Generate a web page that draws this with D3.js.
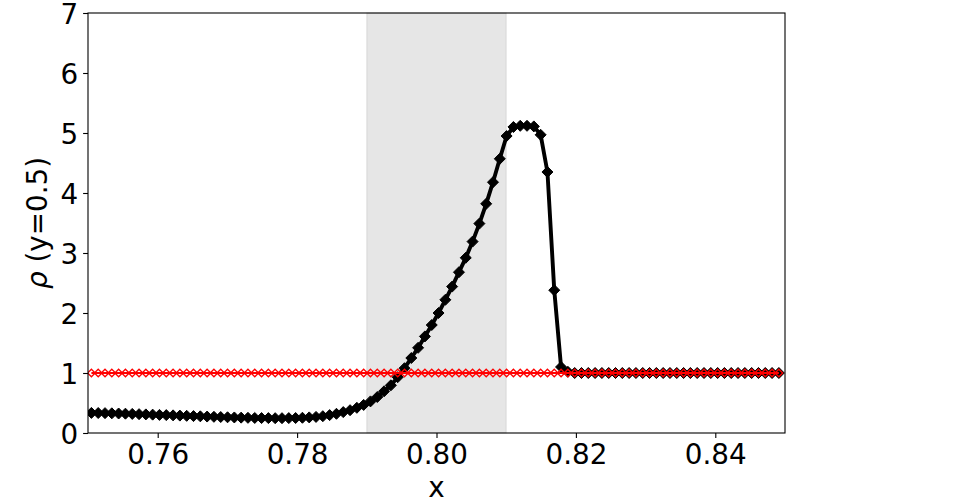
<!DOCTYPE html>
<html>
<head>
<meta charset="utf-8">
<script src="https://cdn.jsdelivr.net/npm/d3@7"></script>
<style>
    body { margin: 0; background: #fff; }
    svg { display: block; font-family: "DejaVu Sans", sans-serif; }
</style>
</head>
<body>
<div id="chart"></div>
<script>
// density along the line y = 0.5, cell centres of a 1024 mesh on [0, 1]
var nCells = 1024;
var firstCell = 768;

// final state (black)
var rho = [
    0.335, 0.333, 0.331, 0.328, 0.325, 0.322, 0.318, 0.314, 0.310, 0.306,
    0.302, 0.298, 0.294, 0.290, 0.286, 0.282, 0.278, 0.274, 0.270, 0.266,
    0.262, 0.259, 0.256, 0.253, 0.251, 0.249, 0.248, 0.247, 0.247, 0.248,
    0.250, 0.254, 0.260, 0.268, 0.280, 0.298, 0.320, 0.348, 0.380, 0.420,
    0.468, 0.527, 0.600, 0.695, 0.795, 0.930, 1.080, 1.250, 1.420, 1.610,
    1.800, 2.000, 2.220, 2.440, 2.680, 2.920, 3.190, 3.490, 3.820, 4.180,
    4.570, 4.950, 5.100, 5.120, 5.120, 5.110, 4.970, 4.350, 2.380, 1.100,
    1.020, 1.000, 1.000, 1.000, 1.000, 1.000, 1.000, 1.000, 1.000, 1.000,
    1.000, 1.000, 1.000, 1.000, 1.000, 1.000, 1.000, 1.000, 1.000, 1.000,
    1.000, 1.000, 1.000, 1.000, 1.000, 1.000, 1.000, 1.000, 1.000, 1.000,
    1.000, 1.000
];

// initial state (red)
var rho0 = [
    1, 1, 1, 1, 1, 1, 1, 1, 1, 1,
    1, 1, 1, 1, 1, 1, 1, 1, 1, 1,
    1, 1, 1, 1, 1, 1, 1, 1, 1, 1,
    1, 1, 1, 1, 1, 1, 1, 1, 1, 1,
    1, 1, 1, 1, 1, 1, 1, 1, 1, 1,
    1, 1, 1, 1, 1, 1, 1, 1, 1, 1,
    1, 1, 1, 1, 1, 1, 1, 1, 1, 1,
    1, 1, 1, 1, 1, 1, 1, 1, 1, 1,
    1, 1, 1, 1, 1, 1, 1, 1, 1, 1,
    1, 1, 1, 1, 1, 1, 1, 1, 1, 1,
    1, 1
];

var xTicks = [0.76, 0.78, 0.80, 0.82, 0.84];
var yTicks = [0, 1, 2, 3, 4, 5, 6, 7];
var band = [0.79, 0.81]; // shaded x range

var width = 975,
    height = 500;
var margin = { top: 13, right: 190, bottom: 67, left: 88 };
var w = width - margin.left - margin.right,
    h = height - margin.top - margin.bottom;
var fontSize = 27.8;

var cellX = function (i) {
    return (firstCell + i + 0.5) / nCells;
};

var x = d3.scaleLinear().domain([0.75, 0.85]).range([0, w]);
var y = d3.scaleLinear().domain([0, 7]).range([h, 0]);

var svg = d3.select("#chart")
    .append("svg")
    .attr("width", width)
    .attr("height", height);

svg.append("defs")
    .append("clipPath")
    .attr("id", "plotclip")
    .append("rect")
    .attr("width", w)
    .attr("height", h);

var g = svg.append("g")
    .attr("transform", "translate(" + margin.left + "," + margin.top + ")");

// shaded band
g.append("rect")
    .attr("x", x(band[0]))
    .attr("y", 0)
    .attr("width", x(band[1]) - x(band[0]))
    .attr("height", h)
    .style("fill", "rgba(128,128,128,0.2)")
    .style("stroke", "rgba(128,128,128,0.2)")
    .style("stroke-width", 1);

var plot = g.append("g")
    .attr("clip-path", "url(#plotclip)");

var line = d3.line()
    .x(function (d, i) { return x(cellX(i)); })
    .y(function (d) { return y(d); });

var diamond = function (r) {
    return "M0," + (-r) + "L" + r + ",0L0," + r + "L" + (-r) + ",0Z";
};

// final density
plot.append("path")
    .datum(rho)
    .attr("d", line)
    .style("fill", "none")
    .style("stroke", "#000")
    .style("stroke-width", 3.9)
    .style("stroke-linejoin", "round");

plot.selectAll(".mk-final")
    .data(rho)
    .enter()
    .append("path")
    .attr("class", "mk-final")
    .attr("transform", function (d, i) {
        return "translate(" + x(cellX(i)) + "," + y(d) + ")";
    })
    .attr("d", diamond(5.5))
    .style("fill", "#000")
    .style("stroke", "#000")
    .style("stroke-width", 1);

// initial density
plot.append("path")
    .datum(rho0)
    .attr("d", line)
    .style("fill", "none")
    .style("stroke", "#ff0000")
    .style("stroke-width", 2);

plot.selectAll(".mk-init")
    .data(rho0)
    .enter()
    .append("path")
    .attr("class", "mk-init")
    .attr("transform", function (d, i) {
        return "translate(" + x(cellX(i)) + "," + y(d) + ")";
    })
    .attr("d", diamond(3.8))
    .style("fill", "none")
    .style("stroke", "#ff0000")
    .style("stroke-width", 1.3);

// axes
var xAxis = g.append("g")
    .attr("transform", "translate(0," + h + ")")
    .call(d3.axisBottom(x)
        .tickValues(xTicks)
        .tickFormat(d3.format(".2f"))
        .tickSizeInner(4.9)
        .tickSizeOuter(0)
        .tickPadding(4.9));

var yAxis = g.append("g")
    .call(d3.axisLeft(y)
        .tickValues(yTicks)
        .tickFormat(d3.format("d"))
        .tickSizeInner(4.9)
        .tickSizeOuter(0)
        .tickPadding(4.9));

[xAxis, yAxis].forEach(function (ax) {
    ax.select(".domain").remove();
    ax.selectAll(".tick line")
        .style("stroke", "#000")
        .style("stroke-width", 1.1);
    ax.selectAll(".tick text")
        .style("font-family", "DejaVu Sans")
        .style("font-size", fontSize + "px")
        .style("fill", "#000");
});

xAxis.selectAll(".tick text")
    .attr("dy", null)
    .attr("y", 31);

yAxis.selectAll(".tick text")
    .attr("dy", "0.36em");

// frame
g.append("rect")
    .attr("width", w)
    .attr("height", h)
    .style("fill", "none")
    .style("stroke", "#000")
    .style("stroke-width", 1.1);

// labels
svg.append("text")
    .attr("x", margin.left + w / 2)
    .attr("y", 497)
    .attr("text-anchor", "middle")
    .style("font-size", fontSize + "px")
    .text("x");

var yLabel = svg.append("text")
    .attr("transform", "translate(46.5," + (margin.top + h / 2) + ") rotate(-90)")
    .attr("text-anchor", "middle")
    .style("font-size", fontSize + "px");

yLabel.append("tspan")
    .style("font-style", "italic")
    .text("ρ");

yLabel.append("tspan")
    .text(" (y=0.5)");
</script>
</body>
</html>
